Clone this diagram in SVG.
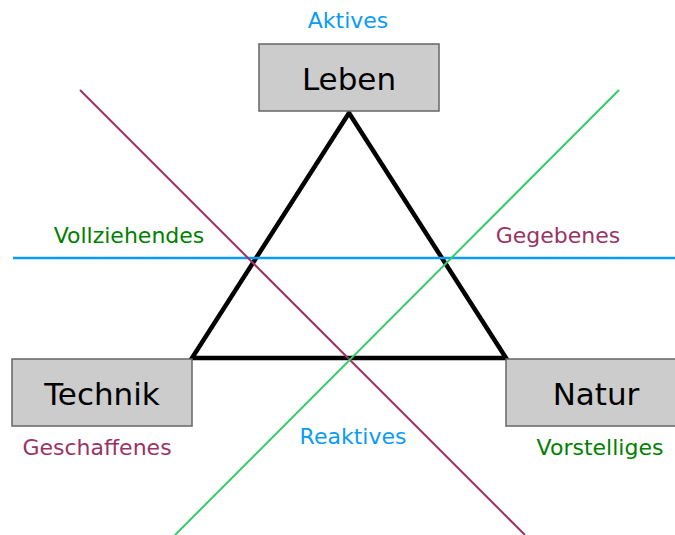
<svg xmlns="http://www.w3.org/2000/svg" width="675" height="535" viewBox="0 0 675 535">
<style>
.box{fill:#cccccc;stroke:#666666;stroke-width:1.5}
.nt{font-family:"DejaVu Sans",sans-serif;font-size:31px;fill:#000;text-anchor:middle}
.lb{font-family:"DejaVu Sans",sans-serif;font-size:22px;text-anchor:middle}
.blue{fill:#0a9cf5}
.purple{fill:#993366}
.green{fill:#008000}
</style>
<rect width="675" height="535" fill="#fff"/>
<g id="triangle">
<polygon points="349,113 192,358 506,358" fill="none" stroke="#000" stroke-width="4.5" stroke-linejoin="miter"/>
</g>
<g id="connectors">
<line x1="13" y1="258" x2="675" y2="258" stroke="#0a9cf5" stroke-width="2.5"/>
<line x1="80" y1="90" x2="525" y2="535" stroke="#993366" stroke-width="2"/>
<line x1="619" y1="90" x2="175" y2="535" stroke="#33cc66" stroke-width="2"/>
</g>
<g id="leben">
<rect class="box" x="259" y="44" width="180" height="67"/>
<text class="nt" x="349" y="90">Leben</text>
</g>
<g id="technik">
<rect class="box" x="12" y="359" width="180" height="67"/>
<text class="nt" x="102" y="405">Technik</text>
</g>
<g id="natur">
<rect class="box" x="506" y="359" width="180" height="67"/>
<text class="nt" x="596" y="405">Natur</text>
</g>
<g id="labels">
<text class="lb blue" x="348" y="28">Aktives</text>
<text class="lb green" x="129" y="243">Vollziehendes</text>
<text class="lb purple" x="558" y="243">Gegebenes</text>
<text class="lb blue" x="353" y="444">Reaktives</text>
<text class="lb purple" x="97" y="455">Geschaffenes</text>
<text class="lb green" x="600" y="455">Vorstelliges</text>
</g>
</svg>
